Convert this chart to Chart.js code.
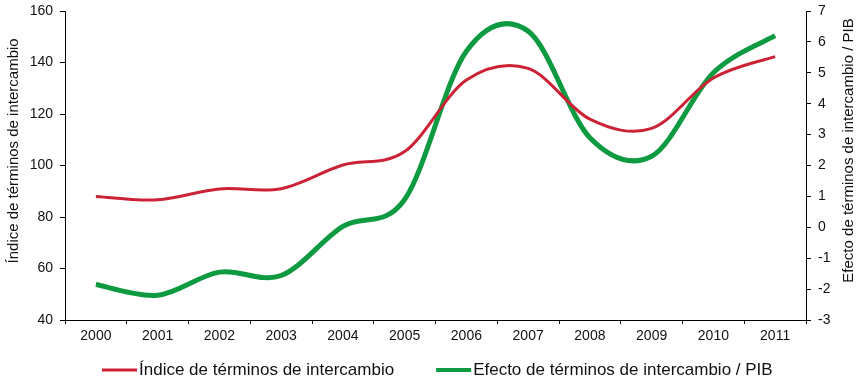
<!DOCTYPE html>
<html>
<head>
<meta charset="utf-8">
<script src="https://cdn.jsdelivr.net/npm/chart.js@4"></script>
<style>
  html, body { margin: 0; padding: 0; background: #fff; }
  #wrap { width: 858px; height: 382px; position: relative; }
</style>
</head>
<body>
<div id="wrap"><canvas id="c" width="858" height="382"></canvas></div>
<script>
const years = ['2000','2001','2002','2003','2004','2005','2006','2007','2008','2009','2010','2011'];
const indiceTerminos = [88, 86.7, 90.9, 91, 100.2, 105.4, 133.2, 137.7, 118, 114.4, 134, 142.3];
const efectoPIB = [-1.85, -2.2, -1.45, -1.56, 0.03, 0.9, 5.7, 6.35, 2.9, 2.3, 5.0, 6.2];
const leftTicks = { min: 40, max: 160, step: 20 };
const rightTicks = { min: -3, max: 7, step: 1 };
const seriesNames = ['Índice de términos de intercambio', 'Efecto de términos de intercambio / PIB'];
const leftTitle = 'Índice de términos de intercambio';
const rightTitle = 'Efecto de términos de intercambio / PIB';

const FONT = "'Liberation Sans', Arial, sans-serif";

// Excel-like smoothing: uniform Catmull-Rom control points from the library's own point positions
const smoothPlugin = {
  id: 'excelSmooth',
  beforeDatasetDraw(chart, args) {
    const meta = args.meta;
    const line = meta.dataset;
    if (!line) return;
    line.updateControlPoints(chart.chartArea, meta.indexAxis);
    const pts = meta.data;
    const n = pts.length;
    for (let i = 0; i < n; i++) {
      const p = pts[i];
      const prev = pts[Math.max(0, i - 1)];
      const next = pts[Math.min(n - 1, i + 1)];
      const dx = (next.x - prev.x) / 6;
      const dy = (next.y - prev.y) / 6;
      p.cp1x = p.x - dx; p.cp1y = p.y - dy;
      p.cp2x = p.x + dx; p.cp2y = p.y + dy;
    }
  }
};

const extrasPlugin = {
  id: 'extras',
  afterDraw(chart) {
    const ctx = chart.ctx;
    ctx.save();
    // right axis title (reads bottom to top)
    ctx.font = '15px ' + FONT;
    ctx.fillStyle = '#111';
    ctx.textAlign = 'center';
    ctx.textBaseline = 'middle';
    ctx.save();
    ctx.translate(849, 150.5);
    ctx.rotate(-Math.PI / 2);
    ctx.fillText(rightTitle, 0, 0);
    ctx.restore();
    // legend
    ctx.font = '17px ' + FONT;
    ctx.textAlign = 'left';
    let x = 102;
    const y = 370;
    const swW = [3, 4];
    chart.data.datasets.forEach((ds, i) => {
      ctx.strokeStyle = ds.borderColor;
      ctx.lineWidth = swW[i];
      ctx.beginPath();
      ctx.moveTo(x, y);
      ctx.lineTo(x + 35, y);
      ctx.stroke();
      ctx.fillStyle = '#111';
      ctx.fillText(ds.label, x + 37, y);
      x += 37 + ctx.measureText(ds.label).width + 42;
    });
    ctx.restore();
  }
};

new Chart(document.getElementById('c'), {
  type: 'line',
  data: {
    labels: years,
    datasets: [
      {
        label: seriesNames[0],
        data: indiceTerminos,
        yAxisID: 'y',
        borderColor: '#CC2236',
        backgroundColor: '#CC2236',
        borderWidth: 3,
        pointRadius: 0,
        tension: 0.4,
        fill: false
      },
      {
        label: seriesNames[1],
        data: efectoPIB,
        yAxisID: 'y1',
        borderColor: '#0E9A40',
        backgroundColor: '#0E9A40',
        borderWidth: 5,
        pointRadius: 0,
        tension: 0.4,
        fill: false
      }
    ]
  },
  options: {
    responsive: false,
    animation: false,
    devicePixelRatio: 1,
    layout: { padding: { top: 0, bottom: 40, left: 0, right: 0 } },
    plugins: {
      legend: { display: false },
      tooltip: { enabled: false }
    },
    scales: {
      x: {
        type: 'category',
        offset: true,
        grid: { display: true, drawOnChartArea: false, offset: true, tickLength: 4, color: '#000' },
        border: { display: true, color: '#000', width: 1 },
        ticks: { font: { family: FONT, size: 14 }, color: '#111', padding: 4, maxRotation: 0, autoSkip: false },
        afterFit(s) { s.height = 22; }
      },
      y: {
        position: 'left',
        min: leftTicks.min, max: leftTicks.max,
        ticks: { stepSize: leftTicks.step, font: { family: FONT, size: 14 }, color: '#111', padding: 7 },
        grid: { display: true, drawOnChartArea: false, tickLength: 5, color: '#000' },
        border: { display: true, color: '#000', width: 1 },
        title: { display: true, text: '       ' + leftTitle, font: { family: FONT, size: 15 }, color: '#111', padding: { top: 5, bottom: 0 } },
        afterFit(s) { s.width = 65; s.paddingTop = 11; s.paddingBottom = 8; }
      },
      y1: {
        position: 'right',
        min: rightTicks.min, max: rightTicks.max,
        ticks: { stepSize: rightTicks.step, font: { family: FONT, size: 14 }, color: '#111', padding: 7 },
        grid: { display: true, drawOnChartArea: false, tickLength: 5, color: '#000' },
        border: { display: true, color: '#000', width: 1 },
        title: { display: false },
        afterFit(s) { s.width = 52; s.paddingTop = 11; s.paddingBottom = 8; }
      }
    }
  },
  plugins: [smoothPlugin, extrasPlugin]
});
</script>
</body>
</html>
